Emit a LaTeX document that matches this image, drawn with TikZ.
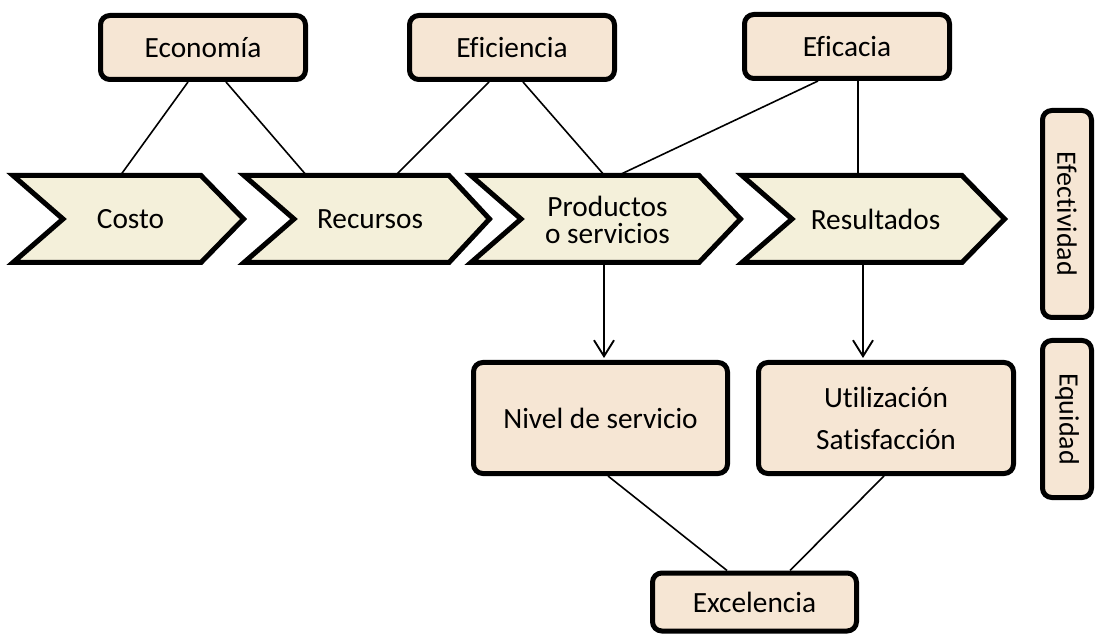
\documentclass[tikz,border=0pt]{standalone}
\usepackage{fontspec}
\setmainfont{Carlito}[Ligatures=NoCommon]
\usetikzlibrary{calc,arrows.meta}
\definecolor{boxfill}{HTML}{F6E6D4}
\definecolor{chevfill}{HTML}{F4F0DA}
\pgfdeclarelayer{background}
\pgfsetlayers{background,main}
\begin{document}
\begin{tikzpicture}[x=0.75pt,y=-0.75pt,
  box/.style={draw=black,fill=boxfill,line width=3.75pt,rounded corners=7pt,inner sep=0pt,align=center,font=\fontsize{22}{27}\selectfont},
  chev/.style={draw=black,fill=chevfill,line width=3.75pt,miter limit=10},
  lbl/.style={inner sep=0pt,align=center,font=\fontsize{22}{27}\selectfont},
  conn/.style={draw=black,line width=1.2pt},
  arr/.style={draw=black,line width=1.4pt,-{Straight Barb[length=12pt,width=15pt,line width=1.4pt]},shorten >=1.5pt}
]
\useasboundingbox (0,0) rectangle (1096,634);

% chevrons
\draw[chev] (13,175.5) -- (201,175.5) -- (243.5,219) -- (201,262.5) -- (13,262.5) -- (63,219) -- cycle;
\draw[chev] (244,175.5) -- (449,175.5) -- (489.5,219) -- (449,262.5) -- (244,262.5) -- (294,219) -- cycle;
\draw[chev] (471,175.5) -- (699,175.5) -- (740.5,219) -- (699,262.5) -- (471,262.5) -- (521,219) -- cycle;
\draw[chev] (742,175.5) -- (962,175.5) -- (1004.5,219) -- (962,262.5) -- (742,262.5) -- (792,219) -- cycle;

\node[lbl] (costo) at (130.5,219) {Costo};
\node[lbl] (recursos) at (370,219) {Recursos};
\node[lbl,font=\fontsize{22}{20}\selectfont] (productos) at (607.5,220) {Productos\\o servicios};
\node[lbl] (resultados) at (875.5,219) {Resultados};

% connection points on chevrons
\coordinate (costoT) at (120,176);
\coordinate (recT1) at (307,176);
\coordinate (recT2) at (395,176);
\coordinate (prodT1) at (605,176);
\coordinate (prodT2) at (617,176);
\coordinate (resT) at (858,176);
\coordinate (prodB) at (604,265);
\coordinate (resB) at (863,265);

% top boxes
\node[box,minimum width=153.75pt,minimum height=48pt] (eco) at (203,47.5) {Economía};
\node[box,minimum width=153.75pt,minimum height=48pt] (efi) at (512,47.5) {Eficiencia};
\node[box,minimum width=153.75pt,minimum height=48pt] (efa) at (847,46.5) {Eficacia};

% lower boxes
\node[box,minimum width=190.5pt,minimum height=83.25pt] (nivel) at (600.5,418) {Nivel de servicio};
\node[box,minimum width=191.25pt,minimum height=83.25pt,font=\fontsize{22}{31.5}\selectfont] (util) at (886,418) {Utilización\\Satisfacción};
\node[box,minimum width=153pt,minimum height=43.5pt] (exc) at (754.5,602) {Excelencia};

% side boxes
\node[box,minimum width=36.75pt,minimum height=155.25pt,font=\fontsize{21}{25}\selectfont] (efec) at (1067,214) {\rotatebox{-90}{Efectividad}};
\node[box,minimum width=36.75pt,minimum height=117.75pt,font=\fontsize{21}{25}\selectfont] (equi) at (1067,419) {\rotatebox{-90}{Equidad}};

% connectors
\begin{pgfonlayer}{background}
\draw[conn] ($(eco.south)+(-15,0)$) -- (costoT);
\draw[conn] ($(eco.south)+(23,0)$) -- (recT1);
\draw[conn] ($(efi.south)+(-23,0)$) -- (recT2);
\draw[conn] ($(efi.south)+(11,0)$) -- (prodT1);
\draw[conn] ($(efa.south)+(-29,0)$) -- (prodT2);
\draw[conn] ($(efa.south)+(11,0)$) -- (resT);
\draw[conn] ($(nivel.south)+(7.5,0)$) -- ($(exc.north)+(-27.5,0)$);
\draw[conn] ($(util.south)+(-2,0)$) -- ($(exc.north)+(35.5,0)$);
\end{pgfonlayer}

% arrows
\draw[arr] (prodB) -- ($(nivel.north)+(3.5,0)$);
\draw[arr] (resB) -- ($(util.north)+(-23,0)$);
\end{tikzpicture}
\end{document}
